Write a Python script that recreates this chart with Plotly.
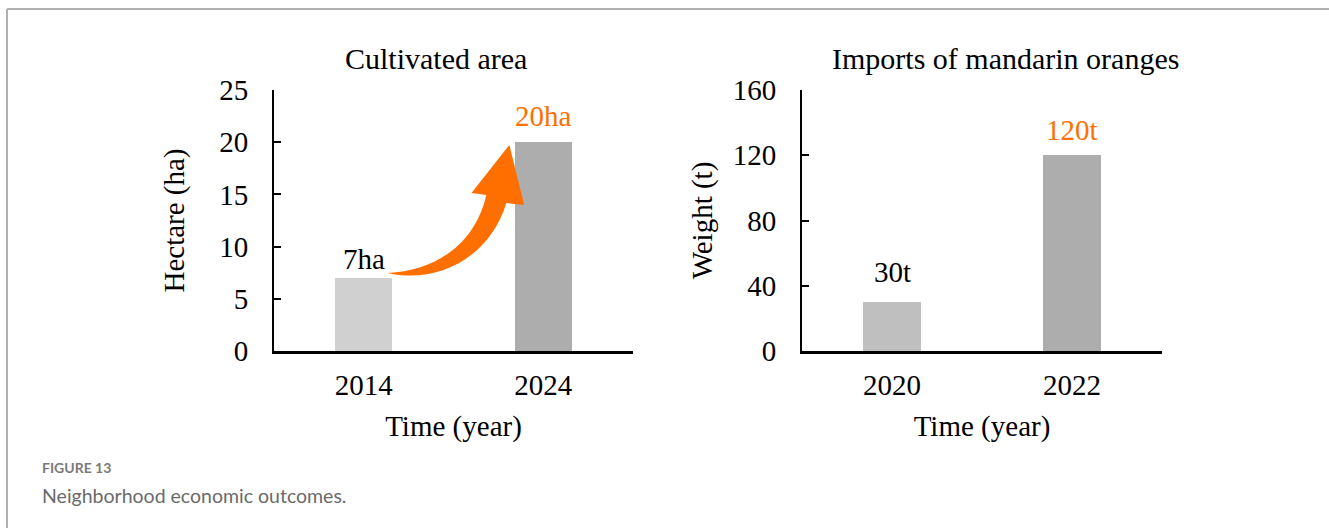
import plotly.graph_objects as go

# ---- data ----
area_years = ["2014", "2024"]
area_values = [7, 20]
area_labels = ["7ha", "20ha"]
area_ticks = [0, 5, 10, 15, 20, 25]

import_years = ["2020", "2022"]
import_values = [30, 120]
import_labels = ["30t", "120t"]
import_ticks = [0, 40, 80, 120, 160]

# ---- styles ----
ORANGE = "#FF6F00"
FONT = "Liberation Serif, Times New Roman, serif"
FS = 29
label_colors = ["black", ORANGE]
area_label_shift = [1, 8]
import_label_shift = [12, 7]

fig = go.Figure()

fig.add_trace(go.Bar(
    x=list(range(len(area_years))), y=area_values,
    marker=dict(color=["#D0D0D0", "#ADADAD"], line=dict(width=0)),
    width=0.317, xaxis="x", yaxis="y", showlegend=False, hoverinfo="skip"))
fig.add_trace(go.Bar(
    x=list(range(len(import_years))), y=import_values,
    marker=dict(color=["#BFBFBF", "#ADADAD"], line=dict(width=0)),
    width=0.317, xaxis="x2", yaxis="y2", showlegend=False, hoverinfo="skip"))

annotations = []
for i, (v, t) in enumerate(zip(area_values, area_labels)):
    annotations.append(dict(x=i, y=v, xref="x", yref="y", text=t, showarrow=False,
                            yanchor="bottom", yshift=area_label_shift[i],
                            font=dict(family=FONT, size=FS, color=label_colors[i])))
for i, (v, t) in enumerate(zip(import_values, import_labels)):
    annotations.append(dict(x=i, y=v, xref="x2", yref="y2", text=t, showarrow=False,
                            yanchor="bottom", yshift=import_label_shift[i],
                            font=dict(family=FONT, size=FS, color=label_colors[i])))

# subplot titles
annotations.append(dict(x=436/1329, y=1-58/528, xref="paper", yref="paper", text="Cultivated area",
                        showarrow=False, xanchor="center", yanchor="middle",
                        font=dict(family=FONT, size=30, color="black")))
annotations.append(dict(x=1005/1329, y=1-58/528, xref="paper", yref="paper", text="Imports of mandarin oranges",
                        showarrow=False, xanchor="center", yanchor="middle",
                        font=dict(family=FONT, size=30, color="black")))

# caption
annotations.append(dict(x=40/1329, y=1-467/528, xref="paper", yref="paper", text="<b>FIGURE 13</b>",
                        showarrow=False, xanchor="left", yanchor="middle",
                        font=dict(family="Lato, sans-serif", size=14, color="#7a7a7a")))
annotations.append(dict(x=40/1329, y=1-495/528, xref="paper", yref="paper",
                        text="Neighborhood economic outcomes.",
                        showarrow=False, xanchor="left", yanchor="middle",
                        font=dict(family="Lato, sans-serif", size=19.5, color="#6a6a6a")))

shapes = [
    # page frame
    dict(type="line", xref="paper", yref="paper", x0=7/1329, x1=1, y0=1-9/528, y1=1-9/528,
         line=dict(color="#B0B0B0", width=2)),
    dict(type="line", xref="paper", yref="paper", x0=7/1329, x1=7/1329, y0=0, y1=1-9/528,
         line=dict(color="#B0B0B0", width=2)),
    # curved growth arrow
    dict(type="path", xref="x", yref="y",
         path="M 0.133,7.47 C 0.40,6.40 0.70,8.80 0.794,14.18 L 0.894,13.98 L 0.811,19.73 "
              "L 0.600,15.13 L 0.683,14.94 C 0.62,10.20 0.40,7.70 0.133,7.47 Z",
         fillcolor=ORANGE, line=dict(width=0)),
]

ax_common = dict(showgrid=False, zeroline=False, showline=True, linecolor="black",
                 automargin=False,
                 tickfont=dict(family=FONT, size=FS, color="black"),
                 title_font=dict(family=FONT, size=FS, color="black"))

fig.update_layout(
    width=1329, height=528, margin=dict(l=0, r=0, t=0, b=0, autoexpand=False),
    paper_bgcolor="white", plot_bgcolor="white", bargap=0,
    annotations=annotations, shapes=shapes,
    xaxis=dict(domain=[274/1329, 633/1329], anchor="y", range=[-0.5, 1.5],
               tickvals=list(range(len(area_years))), ticktext=area_years,
               ticks="", linewidth=3, ticklabelstandoff=6,
               title=dict(text="Time (year)", standoff=16), **ax_common),
    yaxis=dict(domain=[1-351/528, 1-90/528], anchor="x", range=[0, 25],
               tickvals=area_ticks, ticks="inside", ticklen=7, tickwidth=2, tickcolor="black",
               linewidth=2, ticklabelstandoff=18,
               title=dict(text="Hectare (ha)", standoff=26), **ax_common),
    xaxis2=dict(domain=[802/1329, 1162/1329], anchor="y2", range=[-0.5, 1.5],
                tickvals=list(range(len(import_years))), ticktext=import_years,
                ticks="", linewidth=3, ticklabelstandoff=6,
                title=dict(text="Time (year)", standoff=16), **ax_common),
    yaxis2=dict(domain=[1-351/528, 1-90/528], anchor="x2", range=[0, 160],
                tickvals=import_ticks, ticks="inside", ticklen=7, tickwidth=2, tickcolor="black",
                linewidth=2, ticklabelstandoff=18,
                title=dict(text="Weight (t)", standoff=12), **ax_common),
)

fig.write_html("out.html")
